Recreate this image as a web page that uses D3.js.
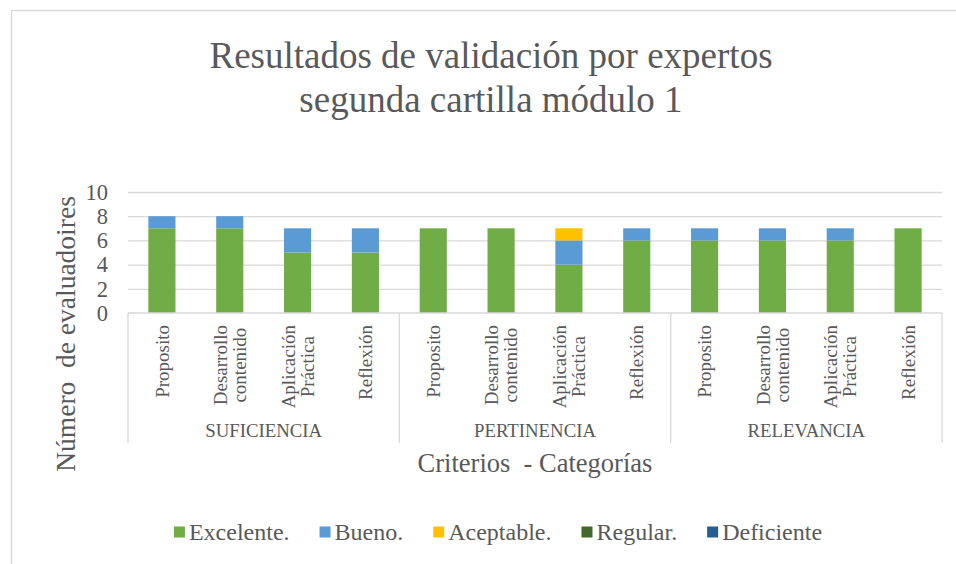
<!DOCTYPE html>
<html>
<head>
<meta charset="utf-8">
<script src="https://cdn.jsdelivr.net/npm/d3@7"></script>
<style>
  body { margin: 0; background: #fff; }
  svg text { font-family: "Liberation Serif", "Times New Roman", serif; fill: #595959; }
</style>
</head>
<body>
<svg id="chart"></svg>
<script>
// Chart data
const groups = ["SUFICIENCIA", "PERTINENCIA", "RELEVANCIA"];
const criteria = [["Proposito"], ["Desarrollo", "contenido"], ["Aplicación", "Práctica"], ["Reflexión"]];
const seriesNames = ["Excelente.", "Bueno.", "Aceptable.", "Regular.", "Deficiente"];
const seriesColors = ["#70AD47", "#5B9BD5", "#FFC000", "#43682B", "#255E91"];
const excelente = [7, 7, 5, 5, 7, 7, 4, 6, 6, 6, 6, 7];
const bueno = [1, 1, 2, 2, 0, 0, 2, 1, 1, 1, 1, 0];
const aceptable = [0, 0, 0, 0, 0, 0, 1, 0, 0, 0, 0, 0];
const regular = [0, 0, 0, 0, 0, 0, 0, 0, 0, 0, 0, 0];
const deficiente = [0, 0, 0, 0, 0, 0, 0, 0, 0, 0, 0, 0];
const yTicks = [0, 2, 4, 6, 8, 10];

const width = 956;
const height = 564;
const plot = { left: 128, right: 942, top: 192, bottom: 313 };
const axisBottom = 443; // end of the category separators
const gridColor = "#d9d9d9";
const serif = "'Liberation Serif', 'Times New Roman', serif";

const svg = d3.select("#chart")
    .attr("width", width).attr("height", height)
    .style("font-family", serif);

// outer frame (right and bottom edges fall outside the picture)
svg.append("rect")
    .attr("x", 11.5).attr("y", 10.5)
    .attr("width", 980).attr("height", 600)
    .attr("fill", "none").attr("stroke", gridColor).attr("stroke-width", 1.5);

// one row per category
const rows = [];
groups.forEach((g, gi) => {
    criteria.forEach((c, ci) => {
        const i = gi * criteria.length + ci;
        rows.push({
            key: g + "|" + ci, group: g, label: c,
            "Excelente.": excelente[i], "Bueno.": bueno[i], "Aceptable.": aceptable[i],
            "Regular.": regular[i], "Deficiente": deficiente[i]
        });
    });
});

const x = d3.scaleBand()
    .domain(rows.map(d => d.key))
    .range([plot.left, plot.right])
    .paddingInner(0.6)
    .paddingOuter(0.3);

const xGroup = d3.scaleBand().domain(groups).range([plot.left, plot.right]);

const y = d3.scaleLinear().domain([0, 10]).range([plot.bottom, plot.top]);

const color = d3.scaleOrdinal().domain(seriesNames).range(seriesColors);

//Gridlines
svg.append("g")
    .attr("transform", `translate(${plot.left},0)`)
    .call(d3.axisLeft(y).tickValues(yTicks.filter(t => t > 0)).tickSize(-(plot.right - plot.left)).tickFormat(""))
    .call(g => g.select(".domain").remove())
    .call(g => g.selectAll("line").attr("stroke", gridColor).attr("stroke-width", 1.3));

//Y tick labels
svg.append("g")
    .attr("transform", `translate(${plot.left - 20},0)`)
    .call(d3.axisLeft(y).tickValues(yTicks).tickSize(0))
    .call(g => g.attr("font-family", serif).attr("font-size", null))
    .call(g => g.select(".domain").remove())
    .call(g => g.selectAll("text")
        .attr("x", 0)
        .style("font-family", serif)
        .style("font-size", "22.5px")
        .attr("fill", "#595959"));

//Stacked bars
const stacked = d3.stack().keys(seriesNames)(rows);

svg.append("g")
    .selectAll("g")
    .data(stacked)
    .join("g")
    .attr("fill", d => color(d.key))
    .selectAll("rect")
    .data(d => d.filter(s => s[1] > s[0]))
    .join("rect")
    .attr("x", d => x(d.data.key))
    .attr("width", x.bandwidth())
    .attr("y", d => y(d[1]))
    .attr("height", d => y(d[0]) - y(d[1]));

//Category axis lines
svg.append("line")
    .attr("x1", plot.left).attr("x2", plot.right)
    .attr("y1", plot.bottom).attr("y2", plot.bottom)
    .attr("stroke", gridColor).attr("stroke-width", 1.3);

const separators = groups.map(g => xGroup(g)).concat([plot.right]);
svg.append("g")
    .selectAll("line")
    .data(separators)
    .join("line")
    .attr("x1", d => d).attr("x2", d => d)
    .attr("y1", plot.bottom).attr("y2", axisBottom)
    .attr("stroke", gridColor).attr("stroke-width", 1.3);

//Rotated criteria labels
const labelTop = 325;
const lineGap = 19;
const tick = svg.append("g")
    .selectAll("g")
    .data(rows)
    .join("g")
    .attr("transform", d => `translate(${x(d.key) + x.bandwidth() / 2},${labelTop}) rotate(-90)`);

tick.each(function (d) {
    const g = d3.select(this);
    const n = d.label.length;
    const texts = g.selectAll("text")
        .data(d.label)
        .join("text")
        .attr("text-anchor", "middle")
        .attr("y", (t, i) => (i - (n - 1) / 2) * lineGap)
        .attr("dy", "0.35em")
        .style("font-family", serif)
        .style("font-size", "19px")
        .text(t => t);
    let maxW = 0;
    texts.each(function () { maxW = Math.max(maxW, this.getComputedTextLength()); });
    texts.attr("x", -maxW / 2);
});

//Group labels
svg.append("g")
    .selectAll("text")
    .data(groups)
    .join("text")
    .attr("x", d => xGroup(d) + xGroup.bandwidth() / 2)
    .attr("y", 437)
    .attr("text-anchor", "middle")
    .style("font-family", serif)
    .style("font-size", "18.8px")
    .text(d => d);

//Axis titles
svg.append("text")
    .attr("x", 535).attr("y", 472)
    .attr("text-anchor", "middle")
    .style("font-family", serif)
    .style("font-size", "26.5px")
    .style("white-space", "pre")
    .text("Criterios  - Categorías");

svg.append("text")
    .attr("transform", "translate(75,334) rotate(-90)")
    .attr("text-anchor", "middle")
    .style("font-family", serif)
    .style("font-size", "27.5px")
    .style("white-space", "pre")
    .text("Número  de evaluadoires");

//Chart title
const title = svg.append("text")
    .attr("text-anchor", "middle")
    .style("font-family", serif)
    .style("font-size", "37px");
title.append("tspan").attr("x", 491).attr("y", 68).text("Resultados de validación por expertos");
title.append("tspan").attr("x", 491).attr("y", 112).text("segunda cartilla módulo 1");

//Legend
const legendY = 532;
const legend = svg.append("g");
const items = legend.selectAll("g")
    .data(seriesNames)
    .join("g");
items.append("rect")
    .attr("width", 11).attr("height", 11)
    .attr("y", legendY - 5.5)
    .attr("fill", d => color(d));
items.append("text")
    .attr("x", 15)
    .attr("y", legendY)
    .attr("dy", "0.35em")
    .style("font-family", serif)
    .style("font-size", "24px")
    .text(d => d);

let cursor = 0;
const itemGap = 30;
items.each(function () {
    const w = this.getBBox().width;
    d3.select(this).attr("transform", `translate(${cursor},0)`);
    cursor += w + itemGap;
});
const totalW = cursor - itemGap;
legend.attr("transform", `translate(${(175 + 821) / 2 - totalW / 2},0)`);
</script>
</body>
</html>
